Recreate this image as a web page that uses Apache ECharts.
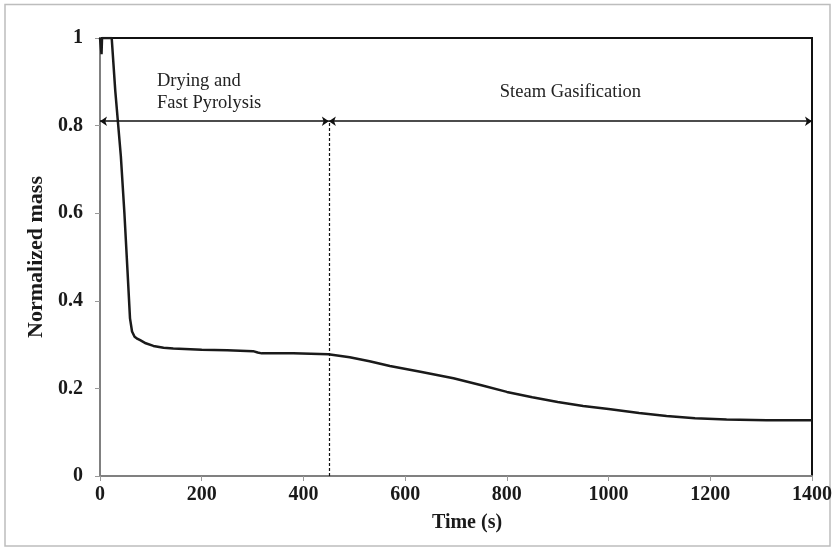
<!DOCTYPE html>
<html><head><meta charset="utf-8">
<script src="https://cdn.jsdelivr.net/npm/echarts@6/dist/echarts.min.js"></script>
<style>html,body{margin:0;padding:0;background:#fff}#c{width:835px;height:550px}</style>
</head><body><div id="c"></div>
<script>
const timeS = [0, 2, 3, 4, 10, 23, 30, 41, 48, 54, 59, 63, 68, 74, 79, 90, 105, 125, 144, 200, 250, 301, 310, 318, 380, 449, 491, 530, 570, 630, 695, 750, 800, 850, 900, 950, 1000, 1060, 1114, 1170, 1232, 1311, 1360, 1400];
const normMass = [1, 1, 0.963, 1, 1, 1, 0.88, 0.73, 0.6, 0.47, 0.36, 0.33, 0.318, 0.313, 0.31, 0.303, 0.297, 0.293, 0.291, 0.288, 0.287, 0.285, 0.282, 0.280, 0.280, 0.278, 0.271, 0.262, 0.251, 0.238, 0.223, 0.207, 0.192, 0.180, 0.169, 0.160, 0.153, 0.144, 0.137, 0.132, 0.129, 0.127, 0.127, 0.127];
const xTicks = [0, 200, 400, 600, 800, 1000, 1200, 1400];
const yTicks = [0, 0.2, 0.4, 0.6, 0.8, 1];
const phaseBoundary = 450;
const arrowLevel = 0.81;
const phaseLabels = ["Drying and\nFast Pyrolysis", "Steam Gasification"];
const phaseLabelPos = [[112, 0.876], [925, 0.877]];

const serif = '"Liberation Serif", "Times New Roman", serif';
const chart = echarts.init(document.getElementById('c'), null, {renderer: 'canvas'});
const data = timeS.map((t, i) => [t, normMass[i]]);

chart.setOption({
  animation: false,
  backgroundColor: '#fff',
  grid: {left: 100, right: 23, top: 38, bottom: 74, show: true, borderColor: '#111', borderWidth: 2, backgroundColor: 'transparent'},
  xAxis: {
    type: 'value', min: 0, max: 1400, interval: 200,
    name: 'Time (s)', nameLocation: 'middle', nameGap: 37,
    nameTextStyle: {fontFamily: serif, fontWeight: 'bold', fontSize: 20, color: '#1a1a1a', padding: [0, 0, 0, 22]},
    axisLine: {show: true, onZero: false, lineStyle: {color: '#808080', width: 2}},
    axisTick: {show: true, length: 5, lineStyle: {color: '#999'}},
    axisLabel: {fontFamily: serif, fontWeight: 'bold', fontSize: 20, color: '#1a1a1a', margin: 9,
      formatter: v => String(v)},
    splitLine: {show: false}
  },
  yAxis: {
    type: 'value', min: 0, max: 1, interval: 0.2,
    name: 'Normalized mass', nameLocation: 'middle', nameGap: 50,
    nameTextStyle: {fontFamily: serif, fontWeight: 'bold', fontSize: 22, color: '#1a1a1a'},
    axisLine: {show: true, onZero: false, lineStyle: {color: '#808080', width: 2}},
    axisTick: {show: true, length: 5, lineStyle: {color: '#999'}},
    axisLabel: {fontFamily: serif, fontWeight: 'bold', fontSize: 20, color: '#1a1a1a', margin: 17,
      formatter: v => String(+v.toFixed(1))},
    splitLine: {show: false}
  },
  series: [{
    type: 'line', data: data, showSymbol: false, smooth: false,
    lineStyle: {color: '#1a1a1a', width: 2.5},
    markLine: {
      silent: true, animation: false,
      label: {show: false},
      data: [
        [{coord: [0, arrowLevel], symbol: 'arrow', symbolSize: 7}, {coord: [phaseBoundary, arrowLevel], symbol: 'arrow', symbolSize: 7}],
        [{coord: [phaseBoundary, arrowLevel], symbol: 'arrow', symbolSize: 7}, {coord: [1400, arrowLevel], symbol: 'arrow', symbolSize: 7}],
        [{coord: [phaseBoundary, 0], symbol: 'none'}, {coord: [phaseBoundary, arrowLevel], symbol: 'none', lineStyle: {type: [3, 2], width: 1.2, color: '#111'}}]
      ],
      lineStyle: {color: '#111', width: 1.5, type: 'solid'}
    }
  }]
});

const p1 = chart.convertToPixel({gridIndex: 0}, phaseLabelPos[0]);
const p2 = chart.convertToPixel({gridIndex: 0}, phaseLabelPos[1]);
chart.setOption({
  graphic: [
    {type: 'rect', shape: {x: 5, y: 4.5, width: 825, height: 541.5}, style: {fill: 'none', stroke: '#bdbdbd', lineWidth: 1.5}, silent: true},
    {type: 'text', x: p1[0], y: p1[1], style: {text: phaseLabels[0], font: '18.5px ' + serif, fill: '#222', textAlign: 'left', textVerticalAlign: 'middle', lineHeight: 22}},
    {type: 'text', x: p2[0], y: p2[1], style: {text: phaseLabels[1], font: '18.5px ' + serif, fill: '#222', textAlign: 'center', textVerticalAlign: 'middle'}}
  ]
});
</script></body></html>
